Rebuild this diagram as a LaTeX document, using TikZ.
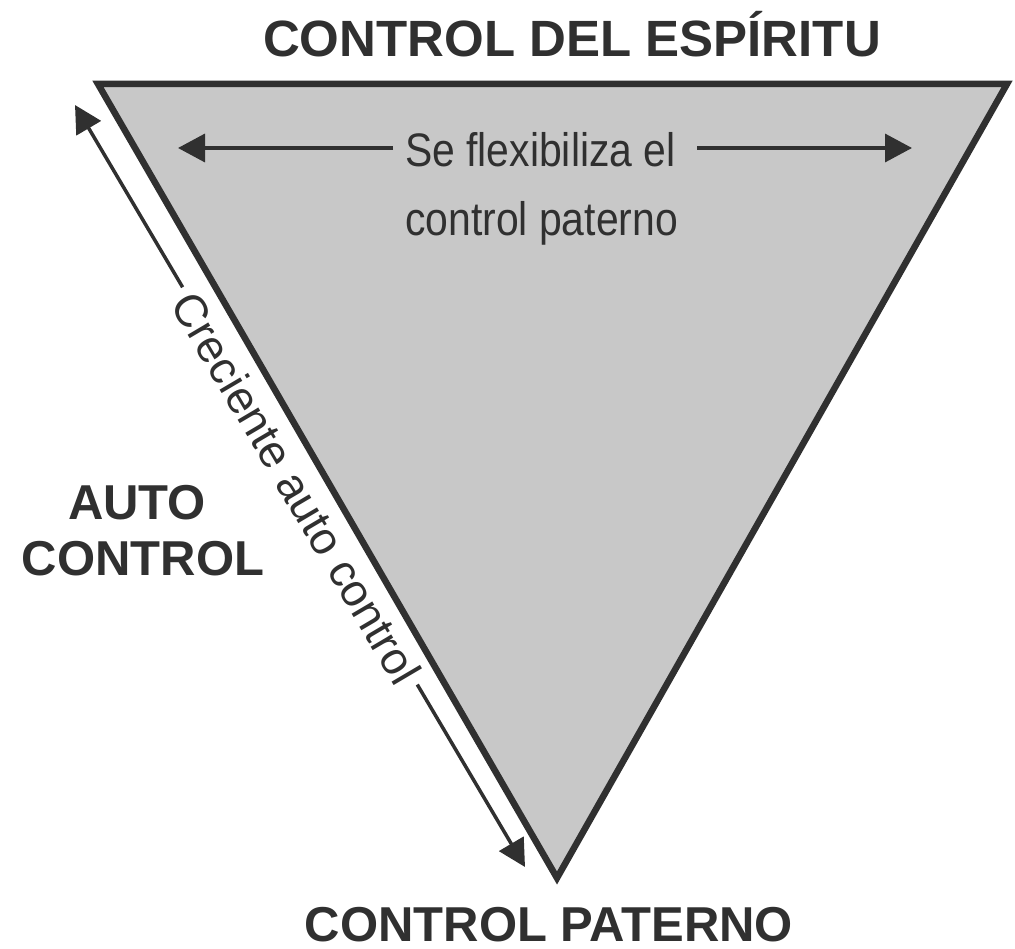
\documentclass[tikz,border=0pt]{standalone}
\usepackage{fontspec}
\setmainfont{Liberation Sans}
\newfontfamily\condfont[FakeStretch=0.87]{Liberation Sans}
\usetikzlibrary{arrows.meta,calc}
\definecolor{ink}{HTML}{303030}
\definecolor{fillgray}{HTML}{C8C8C8}
\tikzset{
  tri/.style={line width=6.5pt, draw=ink, fill=fillgray, line join=miter},
  arr/.style={line width=3.5pt, draw=ink, -{Triangle[length=27pt,width=28pt]}},
  title/.style={text=ink, inner sep=0pt, font=\fontsize{51}{56}\selectfont\bfseries},
  bigl/.style={text=ink, inner sep=0pt, font=\fontsize{49}{56}\selectfont\bfseries},
  flexs/.style={text=ink, inner sep=0pt, font=\fontsize{47}{56}\selectfont\condfont},
  sides/.style={text=ink, inner sep=8pt, font=\fontsize{45.5}{52}\selectfont},
}
\begin{document}
\begin{tikzpicture}[x=1pt,y=-1pt]
\useasboundingbox (0,0) rectangle (1015,949);
% triangle
\coordinate (A) at (98,84);
\coordinate (B) at (1007,84);
\coordinate (C) at (557,878);
\draw[tri] (A) -- (B) -- (C) -- cycle;
% titles
\node[title, anchor=base] (top) at (572,57) {CONTROL DEL ESPÍRITU};
\node[bigl, anchor=base] (bottom) at (549,941) {CONTROL PATERNO};
\node[bigl, anchor=base] (auto1) at (137,519) {AUTO};
\node[bigl, anchor=base] (auto2) at (143,575) {CONTROL};
% top double arrow with text
\node[flexs, anchor=base west] (flex1) at (405,167) {Se flexibiliza el};
\node[flexs, anchor=base west] (flex2) at (405,236) {control paterno};
\coordinate (tl) at (178,148);
\coordinate (tr) at (912,148);
\coordinate (fl) at (393,148);
\coordinate (fr) at (697,148);
\draw[arr] (fl) -- (tl);
\draw[arr] (fr) -- (tr);
% side arrow with rotated text
\coordinate (su) at (75,105);
\coordinate (sd) at (525,867);
\coordinate (sm) at ($(su)!0.5!(sd)+(-3.5,2)$);
\node[sides, rotate=-59.44] (creciente) at (sm) {Creciente auto control};
\draw[arr] ($(su)!(creciente.west)!(sd)$) -- (su);
\draw[arr] ($(su)!(creciente.east)!(sd)$) -- (sd);
\end{tikzpicture}
\end{document}
